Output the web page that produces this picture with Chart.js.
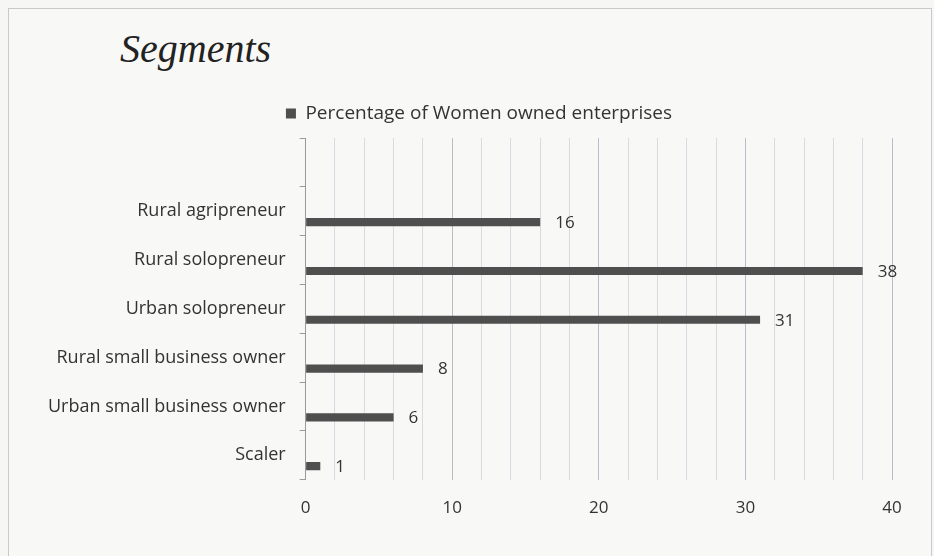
<!DOCTYPE html>
<html>
<head>
<meta charset="utf-8">
<script src="https://cdn.jsdelivr.net/npm/chart.js@4"></script>
<style>
  body { margin: 0; background: #f6f6f4; }
  #wrap { position: relative; width: 934px; height: 556px; overflow: hidden; }
  #frame { position: absolute; left: 8px; top: 8px; width: 922px; height: 560px; border: 1px solid #c9c9c9; background: #f8f8f6; }
  #title { position: absolute; left: 120px; top: 29px; line-height: 1; font-family: "Liberation Serif", "DejaVu Serif", serif; font-style: italic; font-size: 40px; color: #222; }
  canvas { position: absolute; left: 0; top: 0; }
</style>
</head>
<body>
<div id="wrap">
  <div id="frame"></div>
  <div id="title">Segments</div>
  <canvas id="chart" width="934" height="556"></canvas>
</div>
<script>
'use strict'

// top slot is empty in the original chart
let segments = ['', 'Rural agripreneur', 'Rural solopreneur', 'Urban solopreneur',
    'Rural small business owner', 'Urban small business owner', 'Scaler'];
let womenOwned = [null, 16, 38, 31, 8, 6, 1];
let emptySeries = [null, null, null, null, null, null, null];
let xTicks = [0, 10, 20, 30, 40];

let labelFont = '"Open Sans", Lato, sans-serif';

// writes the value next to the end of each bar
const valueLabels = {
    id: 'valueLabels',
    afterDatasetsDraw(chart) {
        let ctx = chart.ctx;
        let meta = chart.getDatasetMeta(1);
        ctx.save();
        ctx.font = '17px ' + labelFont;
        ctx.fillStyle = '#333';
        ctx.textBaseline = 'middle';
        meta.data.forEach(function (bar, i) {
            let v = womenOwned[i];
            if (v === null) return;
            ctx.fillText(v, bar.x + 15, bar.y + 1);
        });
        ctx.restore();
    }
};

// legend sits a little right of the canvas centre in the original
const legendShift = {
    id: 'legendShift',
    afterLayout(chart) {
        chart.legend.left += 16;
        chart.legend.right += 16;
    }
};

const data = {
    labels: segments,
    datasets: [{
        label: 'blank',
        data: emptySeries,
        backgroundColor: '#555'
    },
    {
        label: 'Percentage of Women owned enterprises',
        data: womenOwned,
        backgroundColor: '#4f4f4f',
        barPercentage: 0.37
    }]
};

const config = {
    type: 'bar',
    data: data,
    options: {
        indexAxis: 'y',
        responsive: false,
        animation: false,
        categoryPercentage: 0.9,
        layout: {
            padding: { top: 88, left: 34, right: 42, bottom: 20 }
        },
        scales: {
            x: {
                min: 0,
                max: 40,
                border: { display: false },
                ticks: {
                    stepSize: 2,
                    padding: 18,
                    color: '#333',
                    font: { size: 17, family: labelFont },
                    callback: function (v) {
                        return xTicks.includes(v) ? v : '';
                    }
                },
                grid: {
                    drawTicks: false,
                    color: function (c) {
                        if (c.tick && c.tick.value === 0) return 'rgba(0,0,0,0)';
                        return (c.tick && c.tick.value % 10 === 0) ? '#b9bccb' : '#d9dbe3';
                    }
                }
            },
            y: {
                border: { display: true, color: '#9a9a9a' },
                ticks: {
                    padding: 14,
                    color: '#333',
                    font: { size: 18, family: labelFont }
                },
                grid: {
                    drawOnChartArea: false,
                    drawTicks: true,
                    tickLength: 6,
                    color: '#9a9a9a'
                }
            }
        },
        plugins: {
            legend: {
                position: 'top',
                labels: {
                    boxWidth: 10,
                    boxHeight: 10,
                    padding: 16,
                    color: '#333',
                    font: { size: 19, family: labelFont },
                    filter: function (item) {
                        return item.datasetIndex === 1;
                    }
                }
            },
            // empty spacer between legend and plot
            subtitle: {
                display: true,
                text: '',
                weight: 500,
                font: { size: 1, lineHeight: 1 },
                padding: { top: 0, bottom: 4 }
            },
            tooltip: { enabled: false }
        }
    },
    plugins: [valueLabels, legendShift]
};

let canvas = document.getElementById('chart');
const chart = new Chart(canvas, config);
</script>
</body>
</html>
